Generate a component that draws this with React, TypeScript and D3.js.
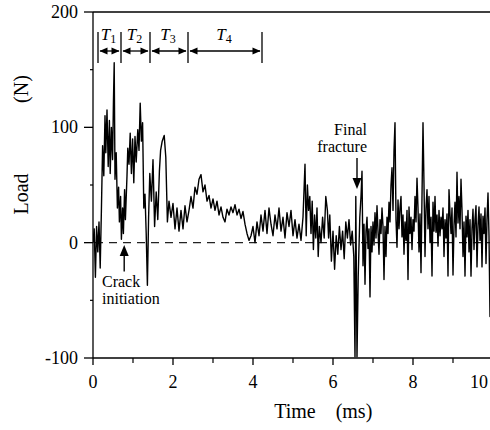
import React from 'react';
import * as d3 from 'd3';

const TIME = [
  0.00, 0.03, 0.06, 0.09, 0.12, 0.15, 0.18, 0.21, 0.24, 0.27, 0.30, 0.32, 0.35, 0.38, 0.41, 0.43, 0.46, 0.49, 0.51, 0.53,
  0.55, 0.58, 0.61, 0.64, 0.66, 0.69, 0.71, 0.74, 0.76, 0.79, 0.81, 0.85, 0.87, 0.90, 0.93, 0.96, 0.99, 1.02, 1.05, 1.08,
  1.12, 1.15, 1.18, 1.21, 1.24, 1.27, 1.30, 1.33, 1.36, 1.39, 1.42, 1.46, 1.50, 1.54, 1.58, 1.62, 1.66, 1.69, 1.73, 1.78,
  1.82, 1.86, 1.90, 1.95, 2.00, 2.05, 2.10, 2.15, 2.20, 2.25, 2.30, 2.35, 2.40, 2.45, 2.50, 2.55, 2.60, 2.65, 2.70, 2.75,
  2.80, 2.85, 2.90, 2.95, 3.00, 3.05, 3.10, 3.15, 3.20, 3.25, 3.30, 3.35, 3.40, 3.45, 3.50, 3.55, 3.60, 3.65, 3.70, 3.75,
  3.80, 3.85, 3.90, 3.95, 4.00, 4.05, 4.10, 4.15, 4.20, 4.25, 4.30, 4.35, 4.40, 4.45, 4.50, 4.55, 4.60, 4.65, 4.70, 4.75,
  4.80, 4.85, 4.90, 4.95, 5.00, 5.05, 5.10, 5.15, 5.20, 5.25, 5.30, 5.33, 5.36, 5.39, 5.42, 5.45, 5.48, 5.51, 5.54, 5.57,
  5.60, 5.63, 5.66, 5.70, 5.74, 5.78, 5.82, 5.86, 5.89, 5.92, 5.96, 6.00, 6.04, 6.08, 6.12, 6.16, 6.20, 6.24, 6.28, 6.32,
  6.36, 6.40, 6.44, 6.48, 6.52, 6.55, 6.57, 6.60, 6.63, 6.67,
  6.700, 6.725, 6.750, 6.775, 6.800, 6.825, 6.850, 6.875, 6.900, 6.925, 6.950, 6.975,
  7.000, 7.025, 7.050, 7.075, 7.100, 7.125, 7.150, 7.175, 7.200, 7.225, 7.250, 7.275,
  7.300, 7.325, 7.350, 7.375, 7.400, 7.425, 7.450, 7.475, 7.500, 7.525, 7.550, 7.575,
  7.600, 7.625, 7.650, 7.675, 7.700, 7.725, 7.750, 7.775, 7.800, 7.825, 7.850, 7.875,
  7.900, 7.925, 7.950, 7.975, 8.000, 8.025, 8.050, 8.075, 8.100, 8.125, 8.150, 8.175,
  8.200, 8.225, 8.250, 8.275, 8.300, 8.325, 8.350, 8.375, 8.400, 8.425, 8.450, 8.475,
  8.500, 8.525, 8.550, 8.575, 8.600, 8.625, 8.650, 8.675, 8.700, 8.725, 8.750, 8.775,
  8.800, 8.825, 8.850, 8.875, 8.900, 8.925, 8.950, 8.975, 9.000, 9.025, 9.050, 9.075,
  9.100, 9.125, 9.150, 9.175, 9.200, 9.225, 9.250, 9.275, 9.300, 9.325, 9.350, 9.375,
  9.400, 9.425, 9.450, 9.475, 9.500, 9.525, 9.550, 9.575, 9.600, 9.625, 9.650, 9.675,
  9.700, 9.725, 9.750, 9.775, 9.800, 9.825, 9.850, 9.875, 9.900, 9.925, 9.950,
];

const LOAD = [
  0, 12, -30, 14, -8, 18, -22, 28, 84, 58, 110, 78, 115, 66, 106, 60, 100, 72, 120, 156,
  55, 78, 30, 48, 18, 40, 3, 30, 8, 46, 20, 58, 82, 68, 95, 60, 90, 52, 92, 70,
  98, 80, 121, 88, 104, 30, 42, 8, -37, 22, 60, 36, 72, 14, 44, 20, 62, 80, 88, 93,
  74, 18, 36, 22, 34, 12, 30, 10, 28, 12, 32, 18, 28, 40, 30, 48, 42, 55, 59, 44,
  50, 36, 41, 30, 38, 28, 36, 24, 31, 22, 18, 29, 24, 31, 26, 33, 24, 29, 21, 27,
  16, 8, 2, 6, 14, 0, 18, 6, 24, 10, 28, 8, 30, 16, 6, 24, 12, 30, 10, 22,
  4, 26, 14, 28, 6, 20, 4, 16, 2, 22, 68, 6, 50, 28, 40, 8, 36, -6, 24, 4,
  30, -12, 14, 0, 22, 4, 40, 28, 4, 24, -16, 10, -23, 6, -10, 14, -6, 10, -14, 18,
  4, 20, -2, 10, -12, -99, 40, -99, -30, 22,
  40, 62, -20, 16, -36, 10, 22, -5, 12, -47, 14, -8,
  18, -2, 26, 4, 32, 10, -10, 20, 8, 30, 14, -32,
  14, -12, 22, 8, 35, 18, 50, 65, 28, 80, 104, 20,
  -4, 37, 12, 30, 40, 5, 24, -10, 18, 2, 28, -32,
  31, 8, 22, -6, 20, 10, 40, 18, 56, 30, -8, 25,
  -26, 40, 104, 50, -12, 30, 46, 12, 40, 0, 22, -29,
  35, 10, 40, 9, 24, -3, 28, 6, 22, 12, 30, -12,
  20, 4, 25, -29, 46, 25, 8, 30, -28, 15, 35, 5,
  61, 17, 40, 12, 55, 28, -12, 18, -29, 23, 5, 28,
  -8, 20, -29, 12, 29, -6, 20, 32, -21, 15, 31, 2,
  25, -21, 23, 8, 30, -18, 20, 43, 6, -64, 10,
];

const X_TICKS = [0, 2, 4, 6, 8, 10];
const X_MINOR = [1, 3, 5, 7, 9];
const Y_TICKS = [-100, 0, 100, 200];
const Y_MINOR = [-50, 50, 150];
const PHASE_BOUNDS = [0.125, 0.7, 1.425, 2.375, 4.225];
const PHASE_LABELS = ['1', '2', '3', '4'];

const W = 490;
const H = 430;
const FONT = '"Liberation Serif", "Times New Roman", "DejaVu Serif", serif';

export default function App() {
  const x = d3.scaleLinear().domain([0, 10]).range([93, 493]);
  const y = d3.scaleLinear().domain([-100, 200]).range([358, 12]);
  const data: [number, number][] = TIME.map((t, i) => [t, LOAD[i]]);
  const line = d3.line<[number, number]>().x(d => x(d[0])).y(d => y(d[1]));

  const x0 = x(0);
  const yb = y(-100);
  const yt = y(200);

  const arrowY = 51;
  const barTop = 32;
  const barBot = 63;

  const head = (tipX: number, tipY: number, dir: 'l' | 'r' | 'u' | 'd', len = 8, hw = 3.5) => {
    if (dir === 'l') return `M${tipX},${tipY}L${tipX + len},${tipY - hw}L${tipX + len},${tipY + hw}Z`;
    if (dir === 'r') return `M${tipX},${tipY}L${tipX - len},${tipY - hw}L${tipX - len},${tipY + hw}Z`;
    if (dir === 'u') return `M${tipX},${tipY}L${tipX - hw},${tipY + len}L${tipX + hw},${tipY + len}Z`;
    return `M${tipX},${tipY}L${tipX - hw},${tipY - len}L${tipX + hw},${tipY - len}Z`;
  };

  const crackX = x(0.78);
  const fracX = x(6.6);

  return (
    <svg width={W} height={H} style={{ position: 'absolute', left: 0, top: 0, background: '#fff' }} fontFamily={FONT}>
      <defs>
        <clipPath id="plot">
          <rect x={x0} y={yt} width={W - x0} height={yb - yt} />
        </clipPath>
      </defs>
      <rect x={0} y={0} width={W} height={H} fill="#fff" />

      {/* zero dashed line */}
      <line x1={x0 + 2} x2={W} y1={y(0)} y2={y(0)} stroke="#222" strokeWidth={1.2} strokeDasharray="8,6" />

      {/* data */}
      <path d={line(data) || ''} fill="none" stroke="#000" strokeWidth={1.4} clipPath="url(#plot)" strokeLinejoin="round" />

      {/* frame */}
      <line x1={x0} x2={x0} y1={yt} y2={yb} stroke="#000" strokeWidth={1.3} />
      <line x1={x0} x2={W} y1={yb} y2={yb} stroke="#000" strokeWidth={1.5} />
      <line x1={x0} x2={W} y1={yt} y2={yt} stroke="#000" strokeWidth={1.5} />

      {/* y ticks */}
      {Y_TICKS.map(v => (
        <g key={'yt' + v}>
          <line x1={x0 - 9} x2={x0} y1={y(v)} y2={y(v)} stroke="#000" strokeWidth={1.3} />
          <text x={78} y={y(v) + 6} textAnchor="end" fontSize={18}>{v}</text>
        </g>
      ))}
      {Y_MINOR.map(v => (
        <line key={'ym' + v} x1={x0 - 3} x2={x0} y1={y(v)} y2={y(v)} stroke="#000" strokeWidth={1.2} />
      ))}

      {/* x ticks */}
      {X_TICKS.map(v => (
        <g key={'xt' + v}>
          <line x1={x(v)} x2={x(v)} y1={yb} y2={yb + 7} stroke="#000" strokeWidth={1.3} />
          <text x={v === 10 ? W - 2 : x(v)} y={388} textAnchor={v === 10 ? 'end' : 'middle'} fontSize={18}>{v}</text>
        </g>
      ))}
      {X_MINOR.map(v => (
        <line key={'xm' + v} x1={x(v)} x2={x(v)} y1={yb} y2={yb + 5} stroke="#000" strokeWidth={1.2} />
      ))}

      {/* axis titles */}
      <text x={295} y={418} textAnchor="middle" fontSize={20}>Time</text>
      <text x={354} y={418} textAnchor="middle" fontSize={20}>(ms)</text>
      <text transform={`translate(28,194) rotate(-90)`} textAnchor="middle" fontSize={20}>Load</text>
      <text transform={`translate(28,89) rotate(-90)`} textAnchor="middle" fontSize={20}>(N)</text>

      {/* phase markers */}
      {PHASE_BOUNDS.map(t => (
        <line key={'pb' + t} x1={x(t)} x2={x(t)} y1={barTop} y2={barBot} stroke="#000" strokeWidth={1.3} />
      ))}
      {PHASE_LABELS.map((lab, i) => {
        const a = x(PHASE_BOUNDS[i]);
        const b = x(PHASE_BOUNDS[i + 1]);
        const c = (a + b) / 2;
        return (
          <g key={'pl' + lab}>
            <line x1={a + 2} x2={b - 2} y1={arrowY} y2={arrowY} stroke="#000" strokeWidth={1.3} />
            <path d={head(a + 1.5, arrowY, 'l')} fill="#000" />
            <path d={head(b - 1.5, arrowY, 'r')} fill="#000" />
            <text x={c - 1} y={40} textAnchor="middle" fontSize={17} fontStyle="italic">
              T<tspan fontSize={12} dy={3} fontStyle="normal">{lab}</tspan>
            </text>
          </g>
        );
      })}

      {/* crack initiation */}
      <line x1={crackX} x2={crackX} y1={y(-25)} y2={y(-2) + 8} stroke="#000" strokeWidth={1.4} />
      <path d={head(crackX, y(-2), 'u', 11, 4.5)} fill="#000" />
      <text x={102} y={287} fontSize={16}>Crack</text>
      <text x={102} y={304} fontSize={16}>initiation</text>

      {/* final fracture */}
      <text x={367} y={135} textAnchor="end" fontSize={16}>Final</text>
      <text x={367} y={152} textAnchor="end" fontSize={16}>fracture</text>
      <line x1={fracX} x2={fracX} y1={158} y2={180} stroke="#000" strokeWidth={1.4} />
      <path d={head(fracX, 189, 'd', 11, 4.5)} fill="#000" />
    </svg>
  );
}
